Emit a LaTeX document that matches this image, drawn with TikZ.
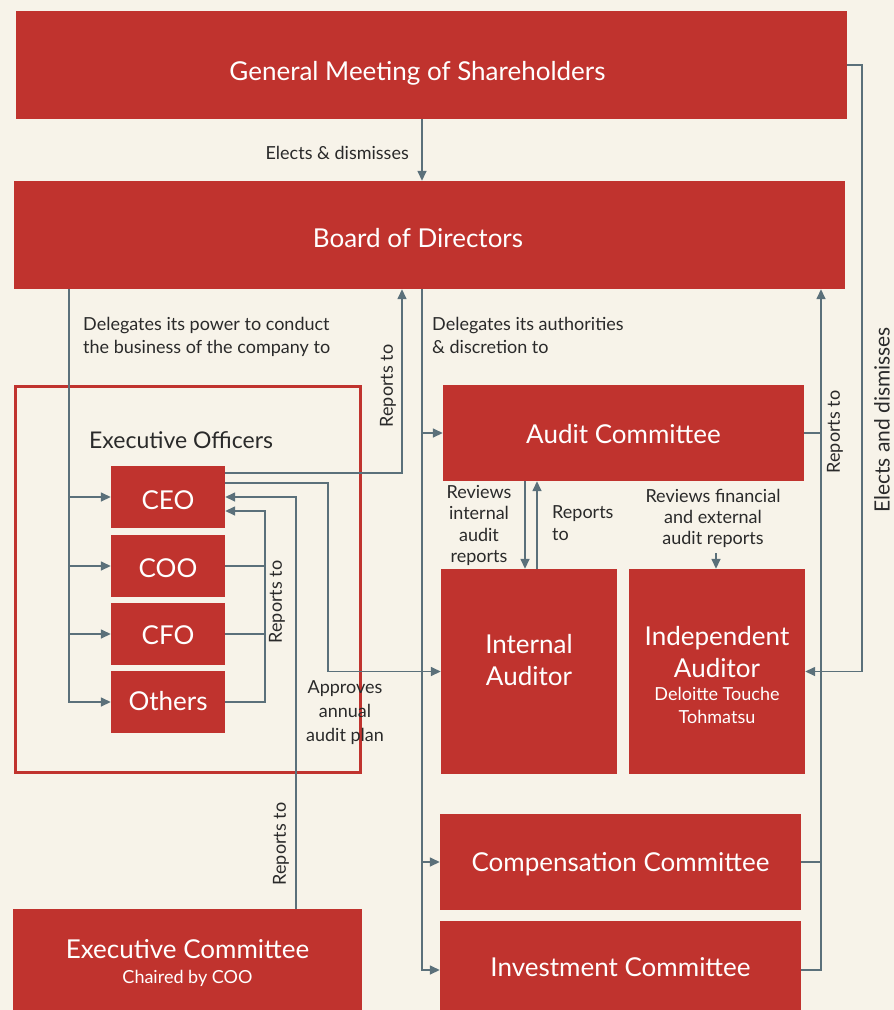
\documentclass[tikz,border=0pt]{standalone}
\usepackage{fontspec}
\setmainfont{Lato}
\usetikzlibrary{arrows.meta,calc}
\definecolor{bgc}{HTML}{F7F3E9}
\definecolor{redc}{HTML}{C0332E}
\definecolor{linec}{HTML}{5B707A}
\definecolor{txtc}{HTML}{2A2A2A}
\newcommand\mybl[2]{\raisebox{#1}[0pt][0pt]{#2}}
\newcommand\mypar[3]{\raisebox{#1}[0pt][0pt]{\parbox[t]{#2}{#3}}}
\begin{document}
\begin{tikzpicture}[x=1pt,y=-1pt,
  box/.style={fill=redc,draw=none,text=white,inner sep=0pt,font=\fontsize{26}{32}\selectfont},
  conn/.style={draw=linec,line width=1.5pt},
  arr/.style={conn,-{Triangle[length=10pt,width=9pt]}},
  lbl/.style={text=txtc,inner sep=0pt,font=\fontsize{18}{23}\selectfont},
  frame/.style={draw=redc,line width=3pt}]
\fill[bgc] (0,0) rectangle (894,1010);
\useasboundingbox (0,0) rectangle (894,1010);
% x positions of vertical connectors
\coordinate (xA) at (422,0);
\coordinate (xE) at (862,0);
\coordinate (xL) at (69,0);
\coordinate (xM) at (422,0);
\coordinate (xC) at (402,0);
\coordinate (xD) at (328,0);
\coordinate (xF) at (296,0);
\coordinate (xG) at (265,0);
\coordinate (xH) at (525,0);
\coordinate (xI) at (537,0);
\coordinate (xK) at (821,0);
\coordinate (revtip) at (716,553);
% boxes
\node[box,minimum width=831pt,minimum height=108pt] (gms) at (431.5,65) {\mybl{-15pt}{\hspace*{-28pt}General Meeting of Shareholders}};
\node[box,minimum width=831pt,minimum height=108pt] (bod) at (429.5,235) {\mybl{-12pt}{\hspace*{-23pt}Board of Directors}};
\draw[frame] (15,386) rectangle (360,772);
\node[lbl,anchor=west,font=\fontsize{23}{28}\selectfont] (eo) at (89,448) {\mybl{0pt}{Executive Officers}};
\node[box,minimum width=114pt,minimum height=62pt] (ceo) at (168,497) {\mybl{-12pt}{CEO}};
\node[box,minimum width=114pt,minimum height=62pt] (coo) at (168,566) {\mybl{-11pt}{COO}};
\node[box,minimum width=114pt,minimum height=62pt] (cfo) at (168,634) {\mybl{-10pt}{CFO}};
\node[box,minimum width=114pt,minimum height=62pt] (oth) at (168,702) {\mybl{-8pt}{Others}};
\node[box,minimum width=361pt,minimum height=96pt] (aud) at (623.5,433) {\mybl{-10pt}{Audit Committee}};
\node[box,minimum width=176pt,minimum height=205pt] (int) at (529,671.5) {\mypar{18.5pt}{176pt}{\centering Internal\\Auditor}};
\node[box,minimum width=176pt,minimum height=205pt] (ind) at (717,671.5) {\mypar{26.5pt}{176pt}{\centering Independent\\Auditor\par\fontsize{18}{23}\selectfont Deloitte Touche\\Tohmatsu}};
\node[box,minimum width=361pt,minimum height=96pt] (comp) at (620.5,862) {\mybl{-9pt}{Compensation Committee}};
\node[box,minimum width=361pt,minimum height=98pt] (inv) at (620.5,970) {\mybl{-6pt}{Investment Committee}};
\node[box,minimum width=349pt,minimum height=108pt] (excom) at (187.5,963) {\mypar{5pt}{349pt}{\centering Executive Committee\par\fontsize{18}{25}\selectfont Chaired by COO}};
% GMS -> Board
\draw[arr] (gms.south -| xA) -- (bod.north -| xA);
\node[lbl,anchor=east] (l1) at (409,159) {\mybl{0pt}{Elects \& dismisses}};
% GMS -> Independent auditor
\draw[arr] (gms.east) -- (gms.east -| xE) |- (ind.east);
\node[lbl,rotate=90,font=\fontsize{21}{25}\selectfont] (l2) at (882,420) {Elects and dismisses};
% Board -> executive officers
\draw[arr] (bod.south -| xL) |- (oth.west);
\draw[arr] (ceo.west -| xL) -- (ceo.west);
\draw[arr] (coo.west -| xL) -- (coo.west);
\draw[arr] (cfo.west -| xL) -- (cfo.west);
\node[lbl,anchor=west] (l3) at (83,330) {\mypar{0pt}{300pt}{\raggedright Delegates its power to conduct\\the business of the company to}};
% Board -> committees
\draw[arr] (bod.south -| xM) |- (inv.west);
\draw[arr] (aud.west -| xM) -- (aud.west);
\draw[arr] (comp.west -| xM) -- (comp.west);
\node[lbl,anchor=west] (l4) at (432,330.5) {\mypar{0pt}{250pt}{\raggedright Delegates its authorities\\\& discretion to}};
% CEO -> Board
\draw[arr] ($(ceo.east)+(0,-24)$) -| (bod.south -| xC);
\node[lbl,rotate=90] (l5) at (388,386) {Reports to};
% CEO -> Internal auditor
\draw[arr] ($(ceo.east)+(0,-14)$) -| (int.west -| xD) -- (int.west);
\node[lbl] (l6) at (345,693) {\mypar{0pt}{120pt}{\centering\fontsize{18}{24}\selectfont Approves\\annual\\audit plan}};
% Executive committee -> CEO
\draw[arr] (excom.north -| xF) |- (ceo.east);
\node[lbl,rotate=90] (l7) at (281,844) {Reports to};
% COO, CFO, Others -> CEO
\draw[conn] (coo.east) -- (coo.east -| xG);
\draw[conn] (cfo.east) -- (cfo.east -| xG);
\draw[arr] (oth.east) -| ($(ceo.east -| xG)+(0,14)$) -- ($(ceo.east)+(0,14)$);
\node[lbl,rotate=90] (l8) at (277,602) {Reports to};
% Audit <-> internal auditor
\draw[arr] (aud.south -| xH) -- (int.north -| xH);
\draw[arr] (int.north -| xI) -- (aud.south -| xI);
\node[lbl] (l9) at (479,498) {\mypar{0pt}{100pt}{\centering\fontsize{18}{21.5}\selectfont Reviews\\internal\\audit\\reports}};
\node[lbl,anchor=west] (l10) at (552,518) {\mypar{0pt}{70pt}{\raggedright\fontsize{18}{22}\selectfont Reports\\to}};
\node[lbl] (l11) at (713,502) {\mypar{0pt}{170pt}{\centering\fontsize{18}{21}\selectfont Reviews financial\\and external\\audit reports}};
\draw[arr] (revtip) -- (ind.north -| revtip);
% committees -> Board
\draw[arr] (inv.east) -| (bod.south -| xK);
\draw[conn] (comp.east) -- (comp.east -| xK);
\draw[conn] (aud.east) -- (aud.east -| xK);
\node[lbl,rotate=90] (l12) at (835,432) {Reports to};
\end{tikzpicture}
\end{document}
